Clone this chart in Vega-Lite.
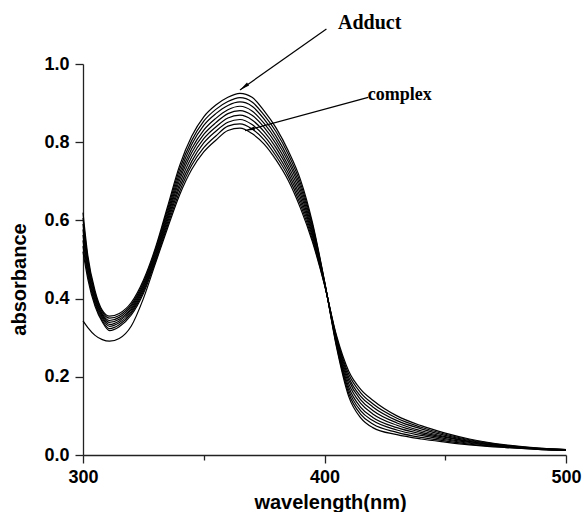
{
  "$schema": "https://vega.github.io/schema/vega-lite/v6.json",
  "width": 483,
  "height": 391,
  "autosize": "none",
  "padding": {"left": 83, "top": 64, "right": 19, "bottom": 57},
  "background": "white",
  "config": {"view": {"stroke": null}, "font": "Liberation Sans"},
  "layer": [
    {
      "data": {"values": [
        {"w":300,"c0":0.62,"c1":0.606,"c2":0.591,"c3":0.577,"c4":0.563,"c5":0.549,"c6":0.534,"c7":0.52,"c8":0.343},
        {"w":302,"c0":0.51,"c1":0.501,"c2":0.493,"c3":0.484,"c4":0.476,"c5":0.467,"c6":0.459,"c7":0.45,"c8":0.326},
        {"w":305,"c0":0.42,"c1":0.414,"c2":0.409,"c3":0.403,"c4":0.397,"c5":0.391,"c6":0.386,"c7":0.38,"c8":0.306},
        {"w":308,"c0":0.37,"c1":0.366,"c2":0.361,"c3":0.357,"c4":0.353,"c5":0.349,"c6":0.344,"c7":0.34,"c8":0.295},
        {"w":311,"c0":0.355,"c1":0.35,"c2":0.344,"c3":0.339,"c4":0.334,"c5":0.329,"c6":0.323,"c7":0.318,"c8":0.291},
        {"w":315,"c0":0.362,"c1":0.357,"c2":0.352,"c3":0.347,"c4":0.343,"c5":0.338,"c6":0.333,"c7":0.328,"c8":0.298},
        {"w":320,"c0":0.39,"c1":0.385,"c2":0.381,"c3":0.376,"c4":0.372,"c5":0.367,"c6":0.363,"c7":0.358,"c8":0.33},
        {"w":325,"c0":0.447,"c1":0.442,"c2":0.437,"c3":0.432,"c4":0.428,"c5":0.423,"c6":0.418,"c7":0.413,"c8":0.4},
        {"w":330,"c0":0.53,"c1":0.525,"c2":0.52,"c3":0.515,"c4":0.51,"c5":0.505,"c6":0.5,"c7":0.495,"c8":0.49},
        {"w":335,"c0":0.635,"c1":0.628,"c2":0.621,"c3":0.614,"c4":0.608,"c5":0.601,"c6":0.594,"c7":0.587,"c8":0.58},
        {"w":340,"c0":0.74,"c1":0.731,"c2":0.721,"c3":0.712,"c4":0.703,"c5":0.693,"c6":0.684,"c7":0.674,"c8":0.665},
        {"w":345,"c0":0.815,"c1":0.804,"c2":0.794,"c3":0.783,"c4":0.773,"c5":0.762,"c6":0.751,"c7":0.741,"c8":0.73},
        {"w":350,"c0":0.865,"c1":0.854,"c2":0.843,"c3":0.831,"c4":0.82,"c5":0.809,"c6":0.798,"c7":0.786,"c8":0.775},
        {"w":355,"c0":0.895,"c1":0.884,"c2":0.873,"c3":0.861,"c4":0.85,"c5":0.839,"c6":0.828,"c7":0.816,"c8":0.805},
        {"w":360,"c0":0.915,"c1":0.904,"c2":0.894,"c3":0.883,"c4":0.873,"c5":0.862,"c6":0.851,"c7":0.841,"c8":0.83},
        {"w":365,"c0":0.925,"c1":0.914,"c2":0.903,"c3":0.892,"c4":0.881,"c5":0.869,"c6":0.858,"c7":0.847,"c8":0.836},
        {"w":370,"c0":0.915,"c1":0.903,"c2":0.892,"c3":0.88,"c4":0.869,"c5":0.857,"c6":0.845,"c7":0.834,"c8":0.822},
        {"w":375,"c0":0.88,"c1":0.869,"c2":0.859,"c3":0.848,"c4":0.838,"c5":0.827,"c6":0.816,"c7":0.806,"c8":0.795},
        {"w":380,"c0":0.836,"c1":0.826,"c2":0.815,"c3":0.805,"c4":0.795,"c5":0.785,"c6":0.774,"c7":0.764,"c8":0.754},
        {"w":385,"c0":0.778,"c1":0.769,"c2":0.759,"c3":0.75,"c4":0.74,"c5":0.731,"c6":0.721,"c7":0.712,"c8":0.702},
        {"w":390,"c0":0.705,"c1":0.696,"c2":0.687,"c3":0.678,"c4":0.669,"c5":0.659,"c6":0.65,"c7":0.641,"c8":0.632},
        {"w":395,"c0":0.595,"c1":0.589,"c2":0.583,"c3":0.576,"c4":0.57,"c5":0.564,"c6":0.558,"c7":0.551,"c8":0.545},
        {"w":400,"c0":0.445,"c1":0.444,"c2":0.443,"c3":0.441,"c4":0.44,"c5":0.439,"c6":0.438,"c7":0.436,"c8":0.435},
        {"w":405,"c0":0.275,"c1":0.279,"c2":0.283,"c3":0.286,"c4":0.29,"c5":0.294,"c6":0.298,"c7":0.301,"c8":0.305},
        {"w":410,"c0":0.15,"c1":0.158,"c2":0.166,"c3":0.174,"c4":0.183,"c5":0.191,"c6":0.199,"c7":0.207,"c8":0.215},
        {"w":415,"c0":0.095,"c1":0.104,"c2":0.113,"c3":0.122,"c4":0.132,"c5":0.141,"c6":0.15,"c7":0.159,"c8":0.168},
        {"w":420,"c0":0.07,"c1":0.079,"c2":0.088,"c3":0.096,"c4":0.105,"c5":0.114,"c6":0.123,"c7":0.131,"c8":0.14},
        {"w":430,"c0":0.052,"c1":0.058,"c2":0.064,"c3":0.07,"c4":0.076,"c5":0.082,"c6":0.088,"c7":0.094,"c8":0.1},
        {"w":440,"c0":0.041,"c1":0.045,"c2":0.05,"c3":0.054,"c4":0.058,"c5":0.062,"c6":0.067,"c7":0.071,"c8":0.075},
        {"w":450,"c0":0.033,"c1":0.036,"c2":0.039,"c3":0.042,"c4":0.045,"c5":0.047,"c6":0.05,"c7":0.053,"c8":0.056},
        {"w":460,"c0":0.026,"c1":0.028,"c2":0.03,"c3":0.032,"c4":0.034,"c5":0.035,"c6":0.037,"c7":0.039,"c8":0.041},
        {"w":475,"c0":0.019,"c1":0.02,"c2":0.021,"c3":0.022,"c4":0.023,"c5":0.023,"c6":0.024,"c7":0.025,"c8":0.026},
        {"w":490,"c0":0.014,"c1":0.014,"c2":0.015,"c3":0.015,"c4":0.015,"c5":0.016,"c6":0.016,"c7":0.017,"c8":0.017},
        {"w":500,"c0":0.012,"c1":0.012,"c2":0.012,"c3":0.013,"c4":0.013,"c5":0.013,"c6":0.013,"c7":0.014,"c8":0.014}
      ]},
      "transform": [{"fold": ["c0","c1","c2","c3","c4","c5","c6","c7","c8"], "as": ["curve", "absorbance"]}],
      "mark": {"type": "line", "interpolate": "monotone", "color": "black", "strokeWidth": 1.2},
      "encoding": {
        "x": {
          "field": "w", "type": "quantitative",
          "scale": {"domain": [300, 500], "nice": false},
          "axis": {
            "values": [300, 350, 400, 450, 500],
            "labelExpr": "datum.value % 100 === 0 ? datum.label : ''",
            "title": "wavelength(nm)",
            "grid": false,
            "tickSize": {"condition": {"test": "datum.value % 100 === 0", "value": 8}, "value": 5},
            "labelFontSize": 18, "labelFontWeight": "bold", "labelColor": "black", "labelPadding": 5,
            "labelFlush": false,
            "titleFontSize": 20, "titleFontWeight": "bold", "titleColor": "black",
            "titleX": 247, "titleY": 53, "titleBaseline": "alphabetic", "titleAlign": "center",
            "domainColor": "#222", "domainWidth": 1.3, "tickColor": "#222", "tickWidth": 1.3
          }
        },
        "y": {
          "field": "absorbance", "type": "quantitative",
          "scale": {"domain": [0, 1], "nice": false},
          "axis": {
            "values": [0, 0.1, 0.2, 0.3, 0.4, 0.5, 0.6, 0.7, 0.8, 0.9, 1.0],
            "labelExpr": "round(datum.value * 10) % 2 === 0 ? format(datum.value, '.1f') : ''",
            "title": "absorbance",
            "grid": false,
            "tickSize": {"condition": {"test": "round(datum.value * 10) % 2 === 0", "value": 8}, "value": 5},
            "labelFontSize": 18, "labelFontWeight": "bold", "labelColor": "black", "labelPadding": 6,
            "labelFlush": false,
            "titleFontSize": 20, "titleFontWeight": "bold", "titleColor": "black",
            "titleX": -54, "titleY": 215, "titleBaseline": "bottom", "titleAlign": "center", "titleAngle": -90,
            "domainColor": "#222", "domainWidth": 1.3, "tickColor": "#222", "tickWidth": 1.3
          }
        },
        "detail": {"field": "curve"}
      }
    },
    {
      "data": {"values": [
        {"x": 400.8, "y": 1.0895, "x2": 365.0, "y2": 0.9335},
        {"x": 418.1, "y": 0.9148, "x2": 367.1, "y2": 0.8294}
      ]},
      "mark": {"type": "rule", "color": "black", "strokeWidth": 1.2},
      "encoding": {
        "x": {"field": "x", "type": "quantitative"},
        "y": {"field": "y", "type": "quantitative"},
        "x2": {"field": "x2"},
        "y2": {"field": "y2"}
      }
    },
    {
      "data": {"values": [{"x": 366.67, "y": 0.9412}]},
      "mark": {"type": "point", "shape": "M0,-1L0.35,1L-0.35,1Z", "filled": true, "color": "black", "opacity": 1, "size": 100, "angle": 233.6},
      "encoding": {
        "x": {"field": "x", "type": "quantitative"},
        "y": {"field": "y", "type": "quantitative"}
      }
    },
    {
      "data": {"values": [{"x": 369.07, "y": 0.8327}]},
      "mark": {"type": "point", "shape": "M0,-1L0.35,1L-0.35,1Z", "filled": true, "color": "black", "opacity": 1, "size": 100, "angle": 254.8},
      "encoding": {
        "x": {"field": "x", "type": "quantitative"},
        "y": {"field": "y", "type": "quantitative"}
      }
    },
    {
      "data": {"values": [{"label": "Adduct", "x": 405.6, "y": 1.0887}]},
      "mark": {"type": "text", "font": "Liberation Serif", "fontWeight": "bold", "fontSize": 20, "align": "left", "baseline": "alphabetic", "color": "black"},
      "encoding": {
        "x": {"field": "x", "type": "quantitative"},
        "y": {"field": "y", "type": "quantitative"},
        "text": {"field": "label"}
      }
    },
    {
      "data": {"values": [{"label": "complex", "x": 417.9, "y": 0.908}]},
      "mark": {"type": "text", "font": "Liberation Serif", "fontWeight": "bold", "fontSize": 18, "align": "left", "baseline": "alphabetic", "color": "black"},
      "encoding": {
        "x": {"field": "x", "type": "quantitative"},
        "y": {"field": "y", "type": "quantitative"},
        "text": {"field": "label"}
      }
    }
  ]
}
